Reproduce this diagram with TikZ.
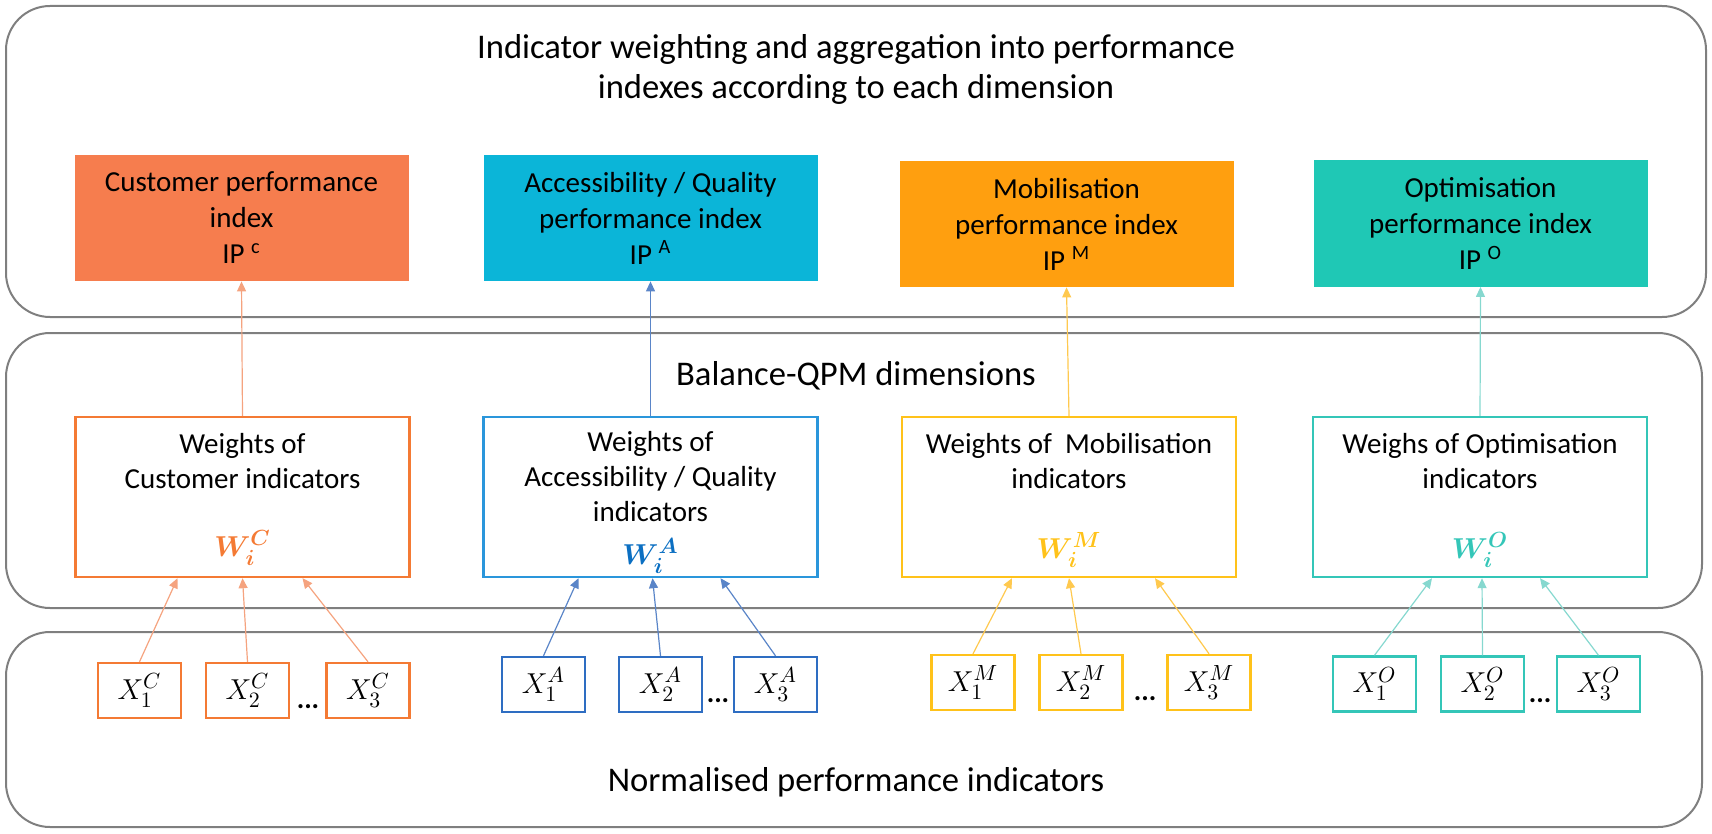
\documentclass[tikz,border=0pt]{standalone}
\usepackage{fontspec}
\setmainfont{Carlito}
\usepackage{amsmath,bm}
\usetikzlibrary{arrows.meta}
\definecolor{panelgray}{HTML}{7F7F7F}
\definecolor{custfill}{HTML}{F67D4E}
\definecolor{custline}{HTML}{F47A34}
\definecolor{custarrow}{HTML}{F5A37F}
\definecolor{accfill}{HTML}{0BB5D8}
\definecolor{accline}{HTML}{2A96DB}
\definecolor{accx}{HTML}{2E6DC2}
\definecolor{accw}{HTML}{0B6FC2}
\definecolor{accarrow}{HTML}{5A85C8}
\definecolor{mobfill}{HTML}{FF9F0F}
\definecolor{mobline}{HTML}{FFC21A}
\definecolor{mobarrow}{HTML}{FFC94F}
\definecolor{optfill}{HTML}{1FC8B5}
\definecolor{optline}{HTML}{34C6B8}
\definecolor{optarrow}{HTML}{86D8CF}
\begin{document}
\begin{tikzpicture}[x=0.5pt,y=-0.5pt,
panel/.style={draw=panelgray, line width=1pt, rounded corners=22pt},
title/.style={font=\fontsize{17.3}{20}\selectfont, align=center},
topbox/.style={fill=#1, minimum width=167pt, minimum height=63pt, inner sep=0pt,
    align=center, font=\fontsize{14.5}{18}\selectfont},
wbox/.style={draw=#1, line width=1.2pt, minimum width=167pt, minimum height=80pt, inner sep=0pt},
wtext/.style={anchor=north, inner sep=0pt, align=center, font=\fontsize{14.5}{17.5}\selectfont},
wsym/.style={text=#1, inner sep=0pt, font=\fontsize{15}{15}\selectfont},
xbox/.style={draw=#1, line width=1.2pt, minimum width=41.5pt, minimum height=27.5pt,
    inner sep=0pt, font=\fontsize{15}{15}\selectfont},
link/.style={draw=#1, line width=0.6pt, -{Triangle[length=5pt,width=4.5pt]}},
dots/.style={anchor=base, inner sep=0pt, font=\fontsize{14}{14}\selectfont\bfseries}]

\useasboundingbox (0,0) rectangle (1712,834);

% three layers
\draw[panel] (6,6) rectangle (1706,317);
\draw[panel] (6,333) rectangle (1702,608);
\draw[panel] (6,632) rectangle (1702,827);
\node[title] (layerTop) at (856,69) {Indicator weighting and aggregation into performance\\indexes according to each dimension};
\node[title] (layerMid) at (856,376) {Balance-QPM dimensions};
\node[title] (layerBot) at (856,782) {Normalised performance indicators};

% performance indexes
\node[topbox=custfill] (tC) at (241.5,218) {Customer performance\\index\\IP \textsuperscript{c}};
\node[topbox=accfill] (tA) at (650.5,218) {Accessibility / Quality\\performance index\\IP \textsuperscript{A}};
\node[topbox=mobfill] (tM) at (1066.5,224) {Mobilisation\\performance index\\IP \textsuperscript{M}};
\node[topbox=optfill] (tO) at (1480.5,223.5) {Optimisation\\performance index\\IP \textsuperscript{O}};

% weights
\node[wbox=custline] (wC) at (242.5,497) {};
\node[wbox=accline] (wA) at (650.5,497) {};
\node[wbox=mobline] (wM) at (1069,497) {};
\node[wbox=optline] (wO) at (1480,497) {};
\node[wtext] (wCt) at (242.5,433) {Weights of\\Customer indicators};
\node[wtext] (wAt) at (650.5,431) {Weights of\\Accessibility / Quality\\indicators};
\node[wtext] (wMt) at (1069,433) {Weights of\ \ Mobilisation\\indicators};
\node[wtext] (wOt) at (1480,433) {Weighs of Optimisation\\indicators};
\node[wsym=custline] (wCw) at (242.5,548) {$\bm{W_i^C}$};
\node[wsym=accw] (wAw) at (650.5,556) {$\bm{W_i^A}$};
\node[wsym=mobline] (wMw) at (1069,550) {$\bm{W_i^M}$};
\node[wsym=optline] (wOw) at (1480,550) {$\bm{W_i^O}$};

% normalised indicators
\node[xbox=custline] (x1C) at (139.5,690.5) {$X_1^C$};
\node[xbox=custline] (x2C) at (247.5,690.5) {$X_2^C$};
\node[xbox=custline] (x3C) at (368,690.5) {$X_3^C$};
\node[xbox=accx] (x1A) at (543.5,684.5) {$X_1^A$};
\node[xbox=accx] (x2A) at (660.5,684.5) {$X_2^A$};
\node[xbox=accx] (x3A) at (775.5,684.5) {$X_3^A$};
\node[xbox=mobline] (x1M) at (973,682.5) {$X_1^M$};
\node[xbox=mobline] (x2M) at (1081,682.5) {$X_2^M$};
\node[xbox=mobline] (x3M) at (1209,682.5) {$X_3^M$};
\node[xbox=optline] (x1O) at (1374.5,684) {$X_1^O$};
\node[xbox=optline] (x2O) at (1482.5,684) {$X_2^O$};
\node[xbox=optline] (x3O) at (1598.5,684) {$X_3^O$};
\node[dots] (dC) at (308,708) {...};
\node[dots] (dA) at (718,702) {...};
\node[dots] (dM) at (1145,700) {...};
\node[dots] (dO) at (1540,702) {...};

% aggregation arrows
\draw[link=custarrow] (wC.north) -- (tC.south);
\draw[link=accarrow] (wA.north) -- (tA.south);
\draw[link=mobarrow] (wM.north) -- (tM.south);
\draw[link=optarrow] (wO.north) -- (tO.south);

% weighting arrows
\draw[link=custarrow] (x1C.north) -- ([xshift=-32.5pt]wC.south);
\draw[link=custarrow] (x2C.north) -- (wC.south);
\draw[link=custarrow] (x3C.north) -- ([xshift=30pt]wC.south);
\draw[link=accarrow] (x1A.north) -- ([xshift=-36pt]wA.south);
\draw[link=accarrow] (x2A.north) -- ([xshift=1pt]wA.south);
\draw[link=accarrow] (x3A.north) -- ([xshift=35pt]wA.south);
\draw[link=mobarrow] (x1M.north) -- ([xshift=-28.5pt]wM.south);
\draw[link=mobarrow] (x2M.north) -- (wM.south);
\draw[link=mobarrow] (x3M.north) -- ([xshift=43pt]wM.south);
\draw[link=optarrow] (x1O.north) -- ([xshift=-24pt]wO.south);
\draw[link=optarrow] (x2O.north) -- ([xshift=1pt]wO.south);
\draw[link=optarrow] (x3O.north) -- ([xshift=30pt]wO.south);
\end{tikzpicture}
\end{document}
